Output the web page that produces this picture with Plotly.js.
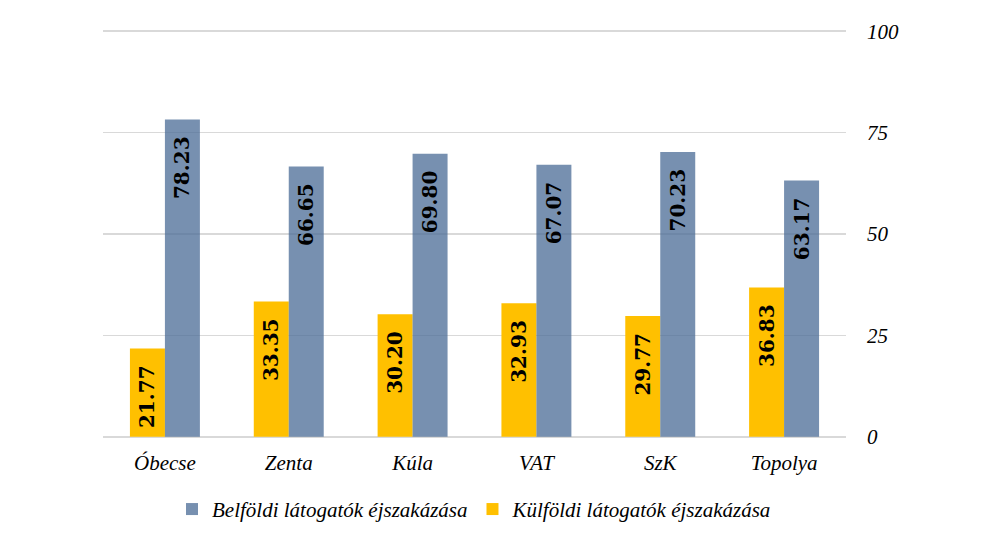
<!DOCTYPE html>
<html>
<head>
<meta charset="utf-8">
<script src="https://cdn.plot.ly/plotly-3.0.1.min.js"></script>
<style>html,body{margin:0;padding:0;background:#fff;}#chart{width:987px;height:536px;}</style>
</head>
<body>
<div id="chart"></div>
<script>
const categories = ["Óbecse", "Zenta", "Kúla", "VAT", "SzK", "Topolya"];
const kulfoldi = [21.77, 33.35, 30.20, 32.93, 29.77, 36.83];
const belfoldi = [78.23, 66.65, 69.80, 67.07, 70.23, 63.17];
const seriesNames = ["Külföldi látogatók éjszakázása", "Belföldi látogatók éjszakázása"];
const yTicks = [0, 25, 50, 75, 100];

const labelFont = {family: "DejaVu Serif", size: 20, color: "#000", weight: "bold"};
const pad = "\u00a0\u00a0";

const traces = [
  {
    type: "bar", x: categories, y: kulfoldi, name: seriesNames[0],
    marker: {color: "#FFC000"},
    texttemplate: "<b>%{y:.2f}</b>" + pad, textposition: "inside", insidetextanchor: "end",
    textangle: -90, textfont: labelFont, constraintext: "none", hoverinfo: "none"
  },
  {
    type: "bar", x: categories, y: belfoldi, name: seriesNames[1],
    marker: {color: "rgba(74,107,150,0.75)"},
    texttemplate: "<b>%{y:.2f}</b>" + pad, textposition: "inside", insidetextanchor: "end",
    textangle: -90, textfont: labelFont, constraintext: "none", hoverinfo: "none"
  }
];

const layout = {
  width: 987, height: 536,
  margin: {l: 103, r: 141, t: 30, b: 98, autoexpand: false},
  paper_bgcolor: "#fff", plot_bgcolor: "#fff",
  barmode: "group", bargap: 0.435, bargroupgap: 0,
  showlegend: true,
  legend: {
    orientation: "h", x: 0.5, xanchor: "center", y: -0.175, yanchor: "middle",
    traceorder: "reversed",
    font: {family: "Liberation Serif", size: 21, color: "#000", style: "italic"}
  },
  xaxis: {
    type: "category", showgrid: false, zeroline: false, showline: false, ticks: "",
    ticklabelstandoff: 10, automargin: false,
    tickfont: {family: "Liberation Serif", size: 21, color: "#000", style: "italic"}
  },
  yaxis: {
    side: "right", range: [-0.3, 100.3], tickvals: yTicks, ticktext: yTicks.map(String),
    showgrid: true, gridcolor: "#D9D9D9", gridwidth: 1.5, zeroline: false, showline: false,
    ticks: "", ticklabelstandoff: 20, automargin: false,
    tickfont: {family: "Liberation Serif", size: 21, color: "#000", style: "italic"}
  }
};

Plotly.newPlot("chart", traces, layout, {displayModeBar: false, staticPlot: true});
</script>
</body>
</html>
